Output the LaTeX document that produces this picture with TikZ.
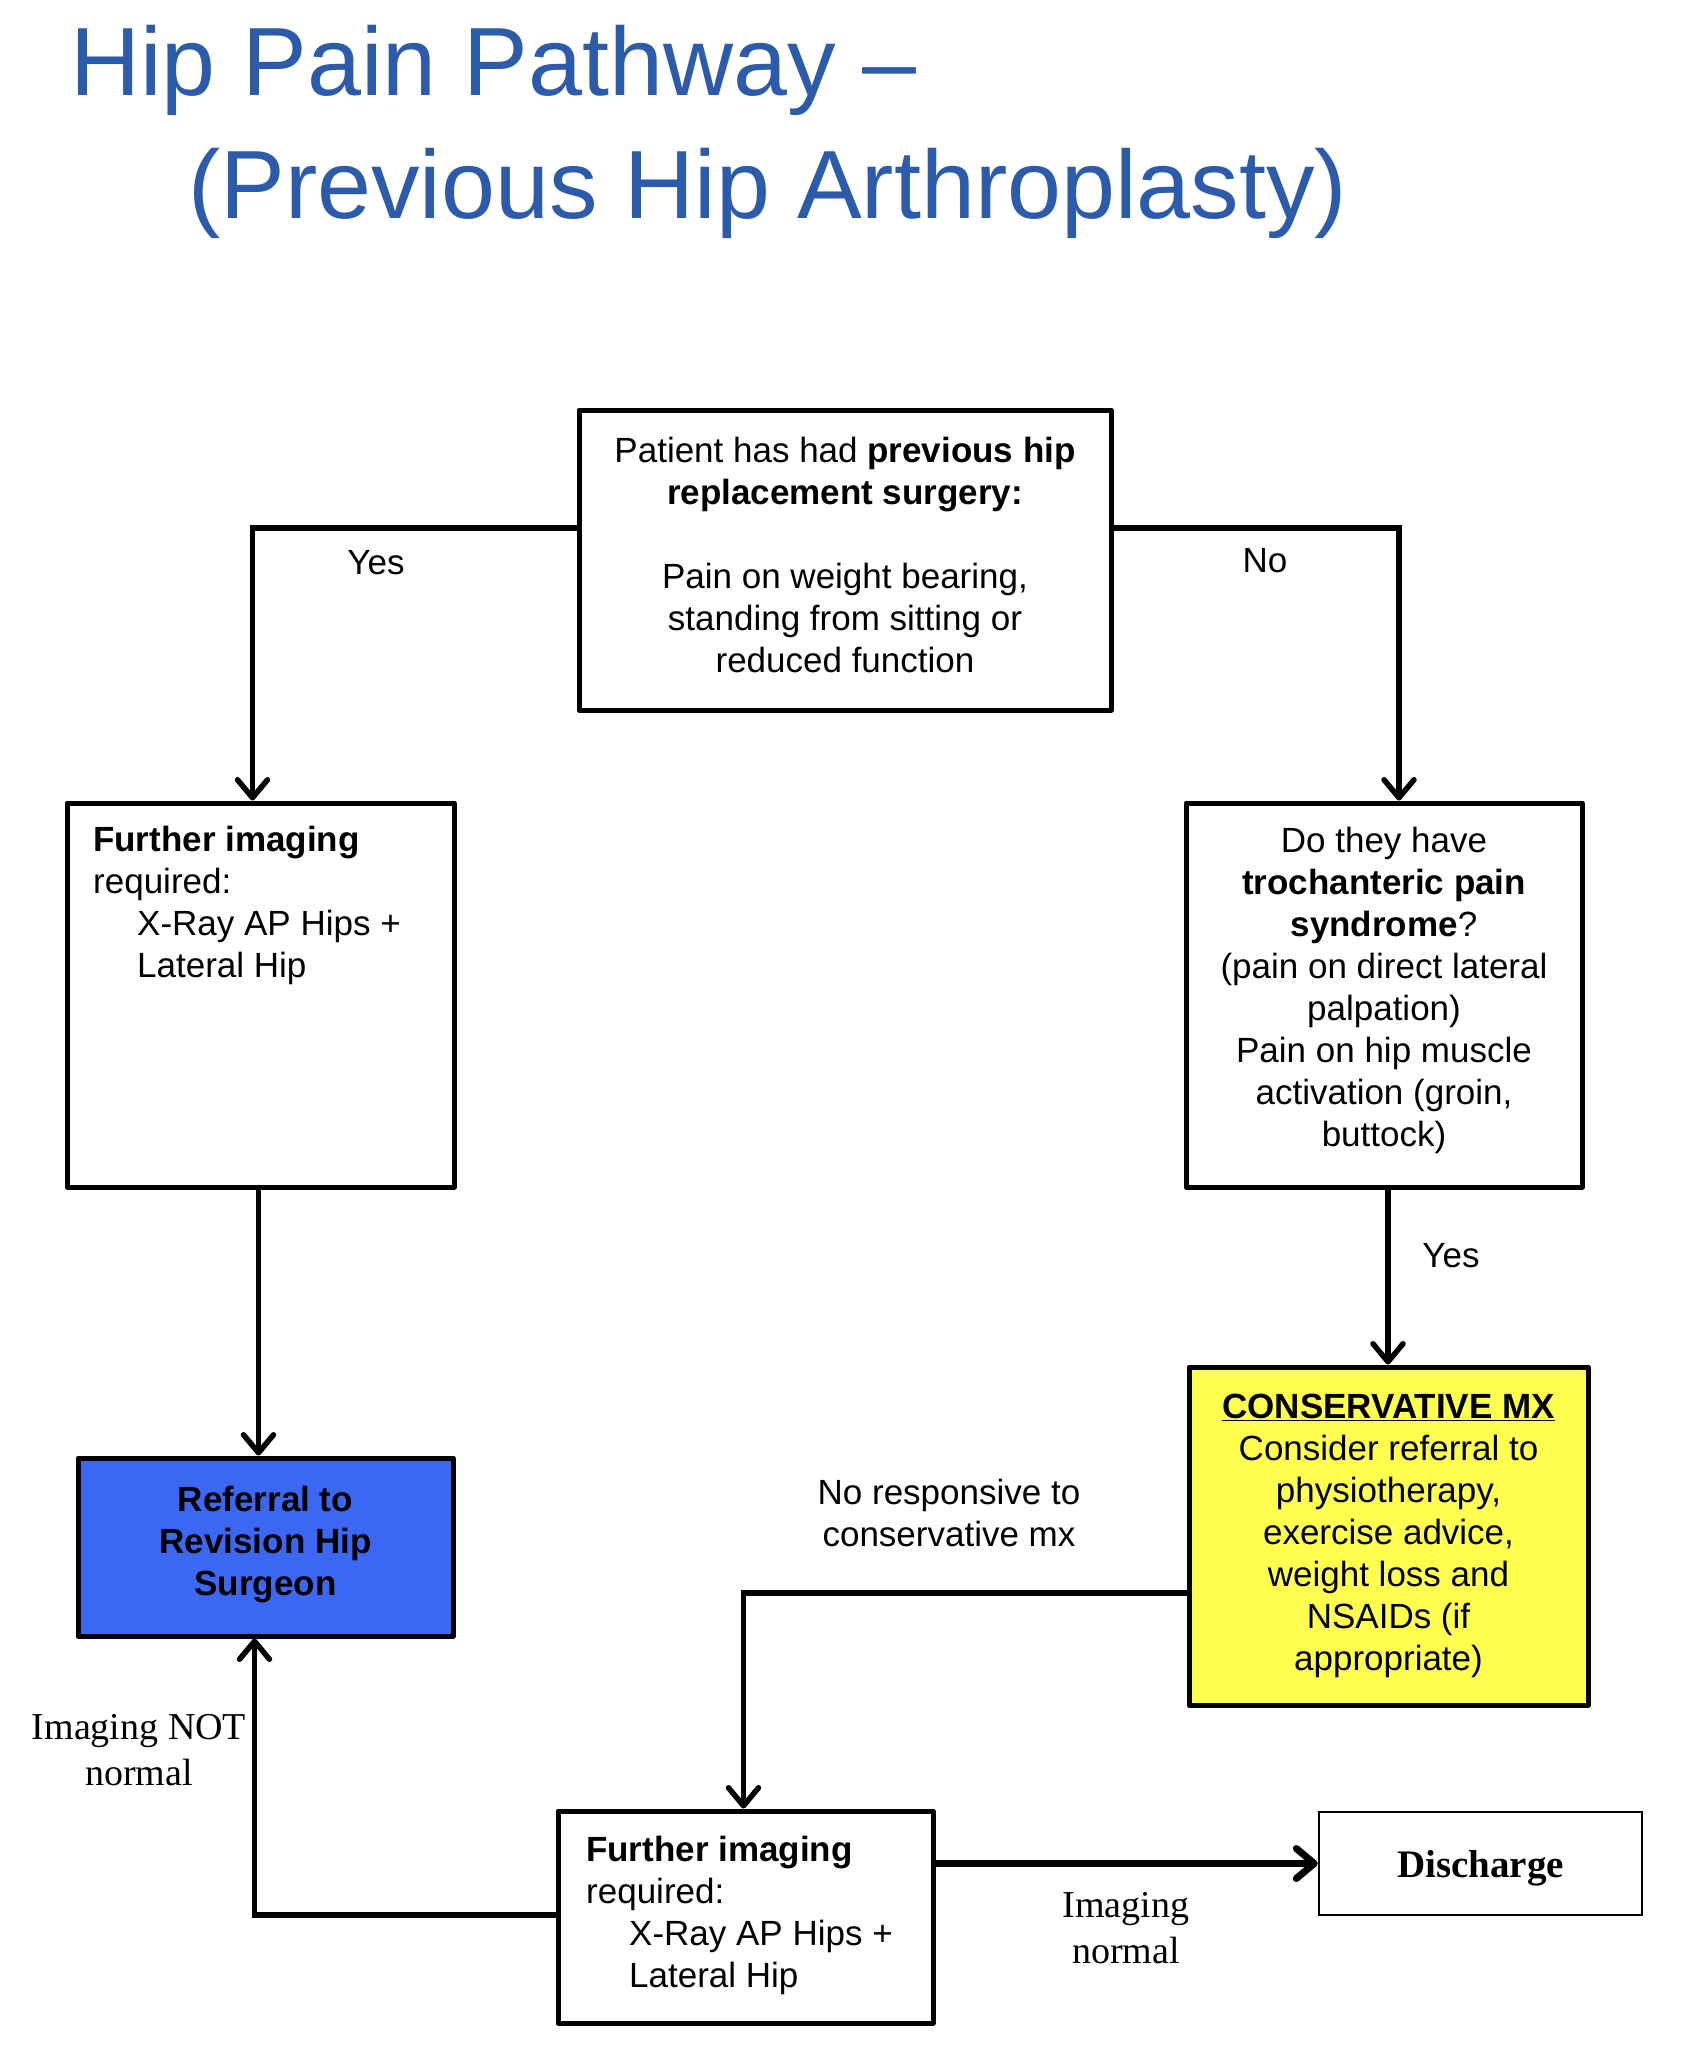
\documentclass[tikz,border=0pt]{standalone}
\usepackage{fontspec}
\setmainfont{Liberation Sans}
\newfontfamily\serifx{Liberation Serif}
\usetikzlibrary{arrows.meta}
\definecolor{titleblue}{RGB}{43,91,170}
\definecolor{boxblue}{RGB}{60,103,242}
\definecolor{boxyellow}{RGB}{255,255,80}
\begin{document}
\begin{tikzpicture}[x=1pt,y=-1pt,
  box/.style={draw=black, line width=5pt, line join=round, inner sep=0pt, align=center},
  body/.style={font=\fontsize{35}{42}\selectfont},
  conn/.style={line width=5.5pt, line join=miter, -{Straight Barb[length=18pt,width=30pt,round]}},
  lab/.style={font=\fontsize{35}{42}\selectfont, align=center, inner sep=0pt},
  slab/.style={font=\serifx\fontsize{38}{46}\selectfont, align=center, inner sep=0pt},
  ttl/.style={anchor=base west, text=titleblue, font=\fontsize{97}{110}\selectfont, inner sep=0pt},
]
\useasboundingbox (0,0) rectangle (1692,2048);
\fill[white] (0,0) rectangle (1692,2048);

% title
\node[ttl] (t1) at (70,95) {Hip Pain Pathway –};
\node[ttl] (t2) at (188,218) {(Previous Hip Arthroplasty)};

% boxes
\node[box, body, minimum width=532pt, minimum height=300pt, text depth=11pt] (top) at (845,560)
  {Patient has had \textbf{previous hip}\\ \textbf{replacement surgery:}\\[42pt]
   Pain on weight bearing,\\ standing from sitting or\\ reduced function};

\node[box, minimum width=387pt, minimum height=384pt] (lbox) at (260.5,995) {};
\node[body, anchor=north west, align=left, inner sep=0pt] (ltxt) at (93,826)
  {\textbf{Further imaging}\\ required:\\ \hspace*{44pt}X-Ray AP Hips +\\ \hspace*{44pt}Lateral Hip};

\node[box, body, minimum width=396pt, minimum height=384pt, text depth=16pt] (rbox) at (1384,995)
  {Do they have\\ \textbf{trochanteric pain}\\ \textbf{syndrome}?\\ (pain on direct lateral\\ palpation)\\ Pain on hip muscle\\ activation (groin,\\ buttock)};

\node[box, body, fill=boxyellow, minimum width=399pt, minimum height=338pt] (ybox) at (1388.5,1536)
  {\underline{\textbf{CONSERVATIVE MX}}\\ Consider referral to\\ physiotherapy,\\ exercise advice,\\ weight loss and\\ NSAIDs (if\\ appropriate)};

\node[box, body, fill=boxblue, minimum width=375pt, minimum height=178pt, text depth=13pt] (blue) at (265.5,1547)
  {\textbf{Referral to}\\ \textbf{Revision Hip}\\ \textbf{Surgeon}};

\node[box, minimum width=375pt, minimum height=212pt] (bbox) at (745.5,1917) {};
\node[body, anchor=north west, align=left, inner sep=0pt] (btxt) at (586,1836)
  {\textbf{Further imaging}\\ required:\\ \hspace*{43pt}X-Ray AP Hips +\\ \hspace*{43pt}Lateral Hip};

\node[draw=black, line width=2.5pt, inner sep=0pt, minimum width=323pt, minimum height=103pt,
      font=\serifx\bfseries\fontsize{39}{46}\selectfont, text height=27pt, text depth=0pt] (dis) at (1480.5,1863.5) {Discharge};

% connectors
\draw[conn] (top.west |- 0,528) -| ([xshift=-8pt]lbox.north);
\draw[conn] (top.east |- 0,528) -| ([xshift=15pt]rbox.north);
\draw[conn] ([xshift=-2pt]lbox.south) -- ([xshift=-2pt]lbox.south |- blue.north);
\draw[conn] ([xshift=4pt]rbox.south) -- ([xshift=4pt]rbox.south |- ybox.north);
\draw[conn] (ybox.west |- 0,1593) -| ([xshift=-2pt]bbox.north);
\draw[conn] (bbox.west |- 0,1915) -| ([xshift=-11pt]blue.south);
\draw[conn, line width=7pt] (bbox.east |- dis.west) -- (dis.west);

% labels
\node[lab, anchor=north] (yes1) at (376,550) {Yes};
\node[lab, anchor=north] (no1) at (1265,548) {No};
\node[lab, anchor=north] (yes2) at (1451,1243) {Yes};
\node[lab, anchor=north] (nrc) at (949,1479) {No responsive to\\ conservative mx};
\node[slab, anchor=north] (inn) at (139,1714) {Imaging NOT\\ normal};
\node[slab, anchor=north] (inorm) at (1126,1892) {Imaging\\ normal};
\end{tikzpicture}
\end{document}
